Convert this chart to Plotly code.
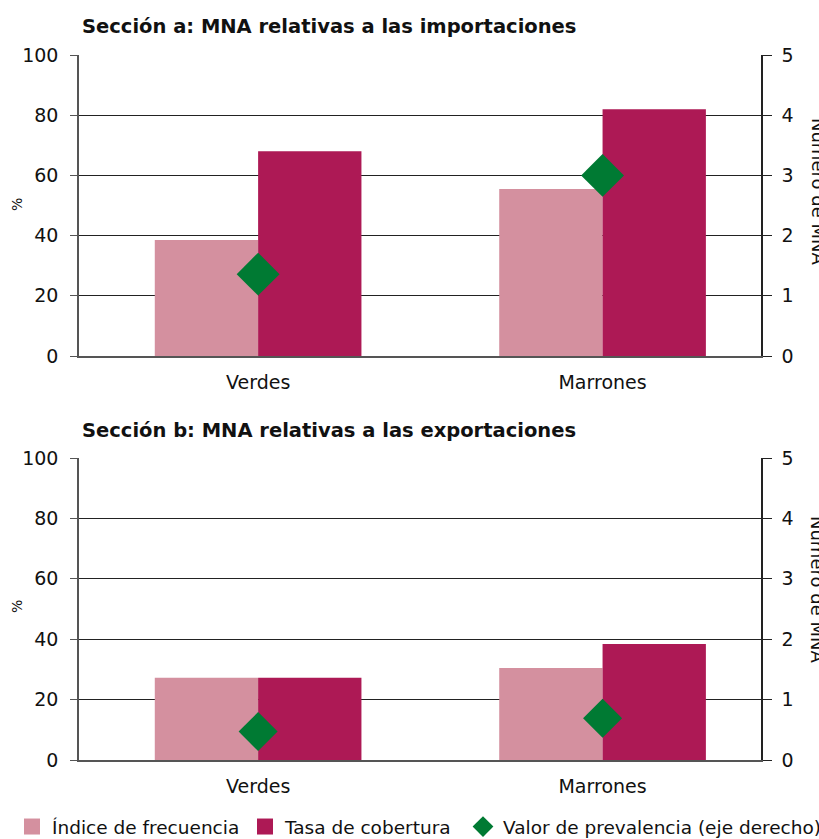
import plotly.graph_objects as go

categories = ["Verdes", "Marrones"]
# Sección a: importaciones
imp_indice = [38.5, 55.5]
imp_tasa = [68.0, 82.0]
imp_prevalencia = [1.36, 3.0]
# Sección b: exportaciones
exp_indice = [27.2, 30.5]
exp_tasa = [27.2, 38.4]
exp_prevalencia = [0.47, 0.69]

left_ticks = [0, 20, 40, 60, 80, 100]
right_ticks = [0, 1, 2, 3, 4, 5]

titles = ["Sección a: MNA relativas a las importaciones",
          "Sección b: MNA relativas a las exportaciones"]
legend_names = ["Índice de frecuencia", "Tasa de cobertura",
                "Valor de prevalencia (eje derecho)"]

C_IND = "#D4909F"
C_TASA = "#AD1955"
C_DIA = "#007A33"
FONT = "DejaVu Sans"

W, H = 819, 839
L, R, T, B = 79, 58, 55, 79
ph = H - T - B
pw = W - L - R

def py(pix):
    return (H - B - pix) / ph

def px(pix):
    return (pix - L) / pw

fig = go.Figure()

panels = [
    (imp_indice, imp_tasa, imp_prevalencia, "x", "y", "y2", 33),
    (exp_indice, exp_tasa, exp_prevalencia, "x2", "y3", "y4", 30),
]
for ind, tasa, prev, xa, ya, ya2, msize in panels:
    fig.add_trace(go.Bar(x=categories, y=ind, name=legend_names[0],
                         marker=dict(color=C_IND, line=dict(width=0)),
                         xaxis=xa, yaxis=ya, showlegend=False, offsetgroup="a"))
    fig.add_trace(go.Bar(x=categories, y=tasa, name=legend_names[1],
                         marker=dict(color=C_TASA, line=dict(width=0)),
                         xaxis=xa, yaxis=ya, showlegend=False, offsetgroup="b"))
    fig.add_trace(go.Scatter(x=categories, y=prev, name=legend_names[2],
                             mode="markers",
                             marker=dict(symbol="diamond", size=msize, color=C_DIA,
                                         line=dict(width=0)),
                             xaxis=xa, yaxis=ya2, showlegend=False))

# Legend entries (one legend box per entry, placed like the reference)
leg_symbols = ["square", "square", "diamond"]
leg_colors = [C_IND, C_TASA, C_DIA]
leg_ids = ["legend", "legend2", "legend3"]
for name, sym, col, lid in zip(legend_names, leg_symbols, leg_colors, leg_ids):
    fig.add_trace(go.Scatter(x=[None], y=[None], mode="markers", name=name,
                             marker=dict(symbol=sym, size=22, color=col,
                                         line=dict(width=0)),
                             showlegend=True, legend=lid))

top_dom = [py(356), 1.0]
bot_dom = [0.0, py(458)]

axis_font = dict(family=FONT, size=19, color="#111111")
xcommon = dict(range=[-0.52, 1.46], showgrid=False, showline=True, linecolor="#555555",
               linewidth=1.5, ticks="outside", ticklen=8, tickcolor="rgba(0,0,0,0)",
               tickfont=axis_font, zeroline=False, automargin=False)
ycommon = dict(range=[0, 100], tickvals=left_ticks, showgrid=True, gridcolor="#222222",
               gridwidth=1, showline=True, linecolor="#555555", linewidth=1.5,
               ticks="outside", ticklen=7, tickcolor="#555555", tickfont=axis_font,
               ticklabelstandoff=8, zeroline=False, automargin=False)
y2common = dict(range=[0, 5], tickvals=right_ticks, showgrid=False, showline=True,
                linecolor="#222222", linewidth=1.5, ticks="outside", ticklen=9,
                tickcolor="#222222", tickfont=axis_font, ticklabelstandoff=6,
                side="right", zeroline=False, automargin=False)

leg_common = dict(orientation="h", xref="container", yref="container",
                  y=(H - 827) / H, xanchor="left", yanchor="middle",
                  font=dict(family=FONT, size=18.5, color="#111111"),
                  itemsizing="trace", bgcolor="rgba(0,0,0,0)", borderwidth=0)

fig.update_layout(
    width=W, height=H,
    margin=dict(l=L, r=R, t=T, b=B, autoexpand=False),
    paper_bgcolor="white", plot_bgcolor="white",
    barmode="group", bargap=0.4, bargroupgap=0,
    font=dict(family=FONT, color="#111111"),
    xaxis=dict(domain=[0, 1], anchor="y", **xcommon),
    xaxis2=dict(domain=[0, 1], anchor="y3", **xcommon),
    yaxis=dict(domain=top_dom, anchor="x", **ycommon),
    yaxis2=dict(overlaying="y", anchor="x", **y2common),
    yaxis3=dict(domain=bot_dom, anchor="x2", **ycommon),
    yaxis4=dict(overlaying="y3", anchor="x2", **y2common),
    legend=dict(x=12 / W, **leg_common),
    legend2=dict(x=245 / W, **leg_common),
    legend3=dict(x=463 / W, **leg_common),
    showlegend=True,
)

# Section titles
for txt, ypix in zip(titles, [26, 430]):
    fig.add_annotation(text=f"<b>{txt}</b>", xref="paper", yref="paper",
                       x=px(80), y=py(ypix), xanchor="left",
                       yanchor="middle", showarrow=False,
                       font=dict(family=FONT, size=19.5, color="#111111"))

# Left axis titles
for ypix in [205, 607]:
    fig.add_annotation(text="%", xref="paper", yref="paper",
                       x=px(17), y=py(ypix), xanchor="center",
                       yanchor="middle", textangle=-90, showarrow=False,
                       font=dict(family=FONT, size=14, color="#111111"))

# Right axis titles (rotated, partially clipped at the edge as in the reference)
for ypix in [191, 589]:
    fig.add_annotation(text="Número de MNA", xref="paper", yref="paper",
                       x=px(818), y=py(ypix), xanchor="center",
                       yanchor="middle", textangle=90, showarrow=False,
                       font=dict(family=FONT, size=18, color="#111111"))

fig.write_html("out.html", config={"displayModeBar": False},
               post_script="document.body.style.margin='0';document.body.style.overflow='hidden';")
